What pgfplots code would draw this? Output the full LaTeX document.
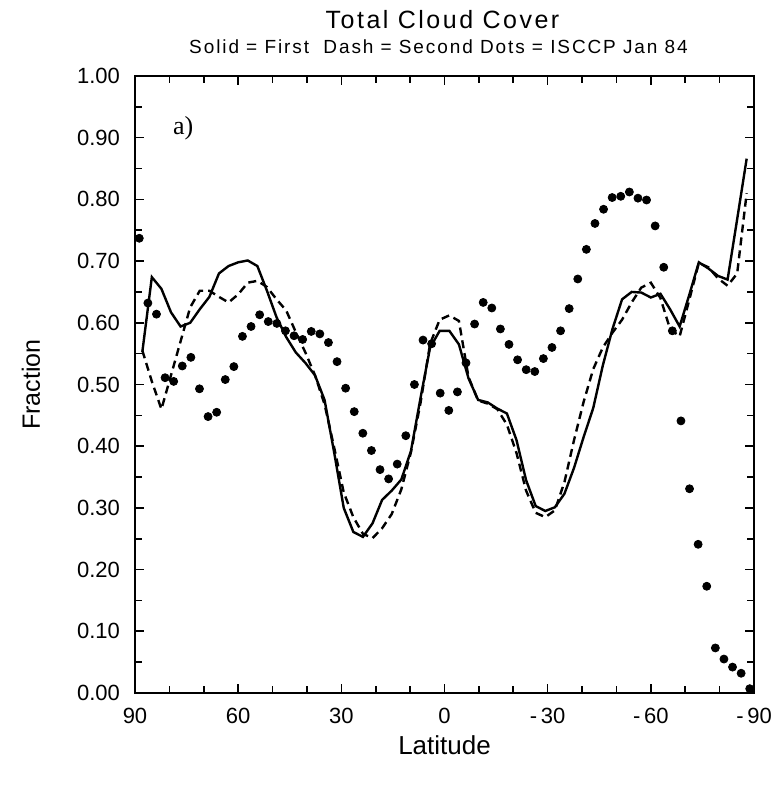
\documentclass[border=0pt]{standalone}
\usepackage{fontspec}
\setmainfont{Liberation Sans}
\newfontfamily\serif{Liberation Serif}
\newfontfamily\wide[LetterSpace=10]{Liberation Sans}
\usepackage{pgfplots}
\pgfplotsset{compat=1.18}
\begin{document}
\begin{tikzpicture}
\begin{axis}[
  scale only axis,
  width=309.5pt, height=308.5pt,
  x dir=reverse,
  xmin=-90, xmax=90, ymin=0, ymax=1,
  xtick={-90,-60,-30,0,30,60,90},
  xticklabels={{-\,90},{-\,60},{-\,30},0,30,60,90},
  ytick={0,0.1,0.2,0.3,0.4,0.5,0.6,0.7,0.8,0.9,1.0},
  yticklabels={0.00,0.10,0.20,0.30,0.40,0.50,0.60,0.70,0.80,0.90,1.00},
  minor x tick num=2,
  minor y tick num=1,
  tick align=inside,
  major tick length=4.5pt,
  minor tick length=3.5pt,
  tick style={line width=0.8pt, black},
  axis line style={line width=1.1pt},
  tick label style={font=\fontsize{11}{13}\selectfont},
  xticklabel style={yshift=-4pt},
  yticklabel style={xshift=-4pt},
]
\addplot[black, line width=1.2pt] coordinates {
(87.86,0.553) (85.10,0.674) (82.31,0.655) (79.53,0.617) (76.74,0.594) (73.95,0.600)
(71.16,0.622) (68.37,0.642) (65.58,0.680) (62.79,0.692) (60.00,0.698) (57.21,0.701)
(54.42,0.692) (51.63,0.652) (48.84,0.609) (46.04,0.577) (43.25,0.552) (40.46,0.535)
(37.67,0.515) (34.88,0.475) (32.09,0.390) (29.30,0.300) (26.51,0.261) (23.72,0.253)
(20.93,0.275) (18.14,0.313) (15.35,0.328) (12.56,0.346) (9.77,0.392) (6.98,0.478)
(4.19,0.560) (1.40,0.587) (-1.40,0.587) (-4.19,0.565) (-6.98,0.510) (-9.77,0.475)
(-12.56,0.471) (-15.35,0.461) (-18.14,0.453) (-20.93,0.410) (-23.72,0.345) (-26.51,0.303)
(-29.30,0.295) (-32.09,0.301) (-34.88,0.323) (-37.67,0.365) (-40.46,0.415) (-43.25,0.462)
(-46.04,0.531) (-48.84,0.590) (-51.63,0.638) (-54.42,0.650) (-57.21,0.649) (-60.00,0.641)
(-62.79,0.647) (-65.58,0.622) (-68.37,0.594) (-71.16,0.645) (-73.95,0.698) (-76.74,0.688)
(-79.53,0.676) (-82.31,0.670) (-85.10,0.768) (-87.86,0.866)
};
\addplot[black, line width=1.2pt, dash pattern=on 4pt off 2.5pt] coordinates {
(87.86,0.555) (85.10,0.505) (82.31,0.460) (79.53,0.515) (76.74,0.570) (73.95,0.625)
(71.16,0.652) (68.37,0.652) (65.58,0.642) (62.79,0.633) (60.00,0.646) (57.21,0.665)
(54.42,0.668) (51.63,0.658) (48.84,0.638) (46.04,0.620) (43.25,0.585) (40.46,0.552)
(37.67,0.515) (34.88,0.468) (32.09,0.398) (29.30,0.325) (26.51,0.285) (23.72,0.258)
(20.93,0.251) (18.14,0.267) (15.35,0.290) (12.56,0.330) (9.77,0.390) (6.98,0.470)
(4.19,0.566) (1.40,0.605) (-1.40,0.612) (-4.19,0.603) (-6.98,0.512) (-9.77,0.474)
(-12.56,0.469) (-15.35,0.460) (-18.14,0.435) (-20.93,0.389) (-23.72,0.328) (-26.51,0.292)
(-29.30,0.285) (-32.09,0.296) (-34.88,0.342) (-37.67,0.410) (-40.46,0.472) (-43.25,0.525)
(-46.04,0.560) (-48.84,0.584) (-51.63,0.605) (-54.42,0.633) (-57.21,0.657) (-60.00,0.665)
(-62.79,0.640) (-65.58,0.590) (-68.37,0.578) (-71.16,0.637) (-73.95,0.697) (-76.74,0.690)
(-79.53,0.672) (-82.31,0.660) (-85.10,0.680) (-87.86,0.810)
};
\addplot[only marks, mark=*, mark size=2pt, black] coordinates {
(88.75,0.737) (86.25,0.632) (83.75,0.614) (81.25,0.511) (78.75,0.505) (76.25,0.530)
(73.75,0.544) (71.25,0.493) (68.75,0.448) (66.25,0.455) (63.75,0.508) (61.25,0.529)
(58.75,0.578) (56.25,0.594) (53.75,0.613) (51.25,0.602) (48.75,0.599) (46.25,0.587)
(43.75,0.579) (41.25,0.573) (38.75,0.586) (36.25,0.582) (33.75,0.568) (31.25,0.537)
(28.75,0.494) (26.25,0.456) (23.75,0.421) (21.25,0.393) (18.75,0.362) (16.25,0.347)
(13.75,0.371) (11.25,0.417) (8.75,0.500) (6.25,0.572) (3.75,0.566) (1.25,0.486)
(-1.25,0.458) (-3.75,0.488) (-6.25,0.535) (-8.75,0.598) (-11.25,0.633) (-13.75,0.624)
(-16.25,0.590) (-18.75,0.565) (-21.25,0.540) (-23.75,0.524) (-26.25,0.521) (-28.75,0.542)
(-31.25,0.560) (-33.75,0.587) (-36.25,0.623) (-38.75,0.671) (-41.25,0.719) (-43.75,0.761)
(-46.25,0.784) (-48.75,0.803) (-51.25,0.805) (-53.75,0.812) (-56.25,0.802) (-58.75,0.799)
(-61.25,0.757) (-63.75,0.690) (-66.25,0.587) (-68.75,0.441) (-71.25,0.331) (-73.75,0.241)
(-76.25,0.173) (-78.75,0.073) (-81.25,0.055) (-83.75,0.042) (-86.25,0.032) (-88.75,0.007)
};
\node[font=\serif\fontsize{13}{15}\selectfont] at (axis cs:76,0.915) {a)};
\coordinate (ll) at (rel axis cs:0,0);
\coordinate (ur) at (rel axis cs:1,1);
\coordinate (tc) at (rel axis cs:0.5,1);
\coordinate (bc) at (rel axis cs:0.5,0);
\coordinate (lc) at (rel axis cs:0,0.5);
\end{axis}
\node[font=\wide\fontsize{12.5}{15}\selectfont] at ([yshift=28pt,xshift=-1pt]tc) {Total Cloud Cover};
\node[font=\wide\fontsize{9.5}{11}\selectfont] at ([yshift=14.5pt,xshift=-3pt]tc) {Solid = First\ \ Dash = Second Dots = ISCCP Jan 84};
\node[font=\fontsize{13}{15}\selectfont] at ([yshift=-26pt]bc) {Latitude};
\node[font=\fontsize{12.5}{15}\selectfont, rotate=90] at ([xshift=-52pt]lc) {Fraction};
\pgfresetboundingbox
\path ([xshift=-67.5pt,yshift=-46pt]ll) rectangle ([xshift=13pt,yshift=38pt]ur);
\end{tikzpicture}
\end{document}
